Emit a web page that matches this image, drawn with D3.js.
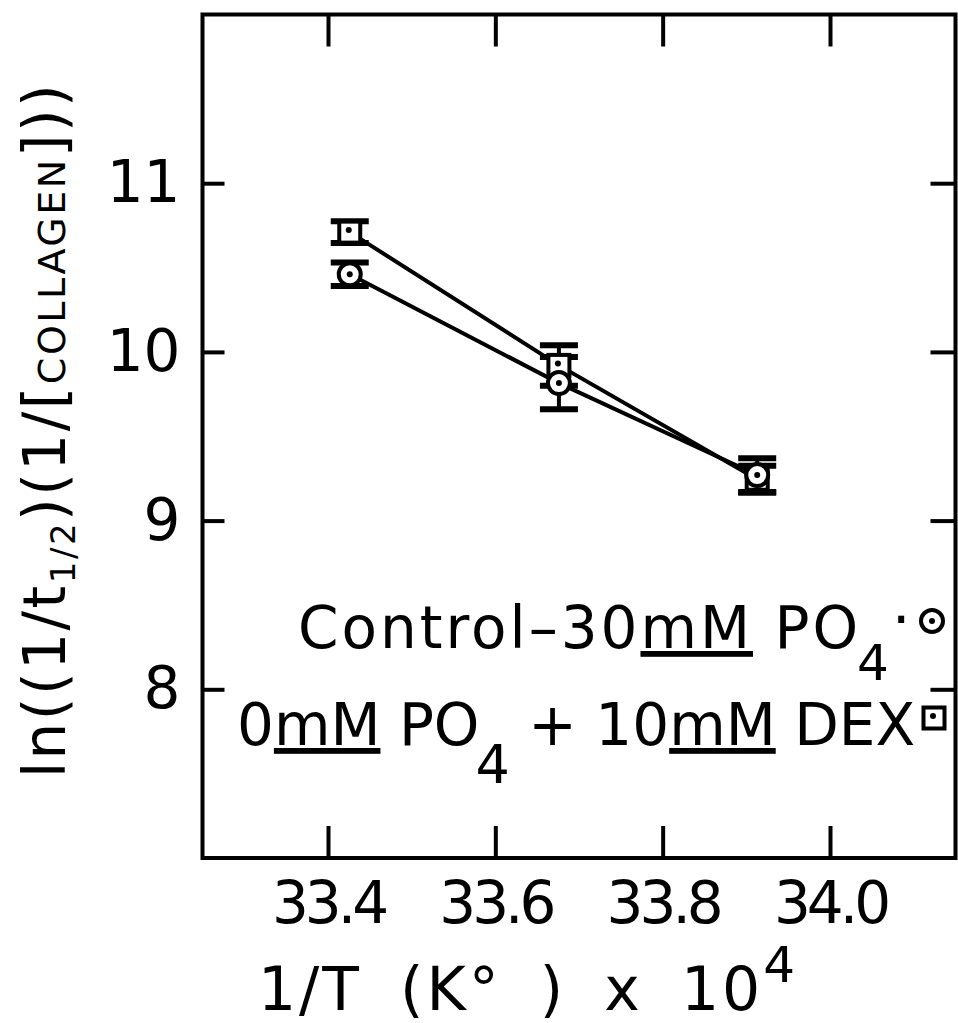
<!DOCTYPE html>
<html>
<head>
<meta charset="utf-8">
<script src="https://cdn.jsdelivr.net/npm/d3@7"></script>
<style>
  body { margin: 0; background: #fff; }
  text { font-family: "DejaVu Sans", sans-serif; fill: #000; }
</style>
</head>
<body>
<div id="chart"></div>
<script>
// values
const invTemp = [33.426, 33.676, 33.913];
const controlMean = [10.46, 9.815, 9.27];
const controlErr = [0.07, 0.155, 0.10];
const dexMean = [10.71, 9.92, 9.245];
const dexErr = [0.065, 0.12, 0.08];
const xTicks = [33.4, 33.6, 33.8, 34.0];
const yTicks = [8, 9, 10, 11];

const width = 958, height = 1023;
const box = { left: 202.5, right: 955.5, top: 14.5, bottom: 858 };

const svg = d3.select("#chart").append("svg")
    .attr("width", width)
    .attr("height", height);

const x = d3.scaleLinear().domain([33.25, 34.15]).range([box.left, box.right]);
const y = d3.scaleLinear().domain([7, 12]).range([box.bottom, box.top]);

// axes, ticks pointing inward on all four sides
const bottomAxis = svg.append("g")
    .attr("transform", "translate(0," + box.bottom + ")")
    .call(d3.axisBottom(x).tickValues(xTicks).tickSize(-32).tickPadding(24)
        .tickFormat(d3.format(".1f")));
bottomAxis.selectAll("text").style("font-size", "58px").style("letter-spacing", "-4px");

svg.append("g")
    .attr("transform", "translate(0," + box.top + ")")
    .call(d3.axisTop(x).tickValues(xTicks).tickSize(-32).tickFormat(""));

const leftAxis = svg.append("g")
    .attr("transform", "translate(" + box.left + ",0)")
    .call(d3.axisLeft(y).tickValues(yTicks).tickSize(-22).tickPadding(22)
        .tickFormat(d3.format("d")));
leftAxis.selectAll("text").style("font-size", "58px");

svg.append("g")
    .attr("transform", "translate(" + box.right + ",0)")
    .call(d3.axisRight(y).tickValues(yTicks).tickSize(-25).tickFormat(""));

svg.selectAll(".domain").remove();
svg.selectAll(".tick line").attr("stroke", "#000").attr("stroke-width", 4);
svg.selectAll(".tick text").attr("font-family", null);

svg.append("rect")
    .attr("x", box.left).attr("y", box.top)
    .attr("width", box.right - box.left).attr("height", box.bottom - box.top)
    .attr("fill", "none").attr("stroke", "#000").attr("stroke-width", 4);

// series
const series = [
    { name: "dex", mean: dexMean, err: dexErr },
    { name: "control", mean: controlMean, err: controlErr }
];

const line = d3.line().x((d, i) => x(invTemp[i])).y(d => y(d));

series.forEach(s => {
    svg.append("path")
        .attr("d", line(s.mean))
        .attr("fill", "none").attr("stroke", "#000").attr("stroke-width", 4);
});

series.forEach(s => {
    const g = svg.append("g");
    s.mean.forEach((m, i) => {
        const cx = x(invTemp[i]);
        g.append("line")
            .attr("x1", cx).attr("x2", cx)
            .attr("y1", y(m + s.err[i])).attr("y2", y(m - s.err[i]))
            .attr("stroke", "#000").attr("stroke-width", 4);
        [m + s.err[i], m - s.err[i]].forEach(v => {
            g.append("line")
                .attr("x1", cx - 19).attr("x2", cx + 19)
                .attr("y1", y(v)).attr("y2", y(v))
                .attr("stroke", "#000").attr("stroke-width", 6);
        });
    });
});

function square(g, cx, cy) {
    g.append("rect")
        .attr("x", cx - 10.5).attr("y", cy - 10.5)
        .attr("width", 21).attr("height", 21)
        .attr("fill", "#fff").attr("stroke", "#000").attr("stroke-width", 4);
    g.append("circle").attr("cx", cx - 1).attr("cy", cy - 2).attr("r", 3).attr("fill", "#000");
}
function ring(g, cx, cy) {
    g.append("circle")
        .attr("cx", cx).attr("cy", cy).attr("r", 11)
        .attr("fill", "#fff").attr("stroke", "#000").attr("stroke-width", 4);
    g.append("circle").attr("cx", cx).attr("cy", cy).attr("r", 3).attr("fill", "#000");
}

const marks = svg.append("g");
dexMean.forEach((m, i) => square(marks, x(invTemp[i]), y(m)));
controlMean.forEach((m, i) => ring(marks, x(invTemp[i]), y(m)));

// legend
const leg1 = svg.append("text").attr("x", 298).attr("y", 648)
    .style("font-size", "58px").style("letter-spacing", "3px");
leg1.append("tspan").text("Control\u201330");
leg1.append("tspan").text("mM").style("text-decoration", "underline");
leg1.append("tspan").text(" PO");
leg1.append("tspan").text("4").attr("dx", -4).attr("dy", 32).style("font-size", "50px");
leg1.append("tspan").text("\u00b7").attr("dy", -40);
ring(svg, 932, 621);

const leg2 = svg.append("text").attr("x", 237).attr("y", 745).style("font-size", "58px");
leg2.append("tspan").text("0");
leg2.append("tspan").text("mM").style("text-decoration", "underline");
leg2.append("tspan").text(" PO");
leg2.append("tspan").text("4").attr("dx", -4).attr("dy", 38).style("font-size", "54px");
leg2.append("tspan").text(" + 10").attr("dy", -38);
leg2.append("tspan").text("mM").style("text-decoration", "underline");
leg2.append("tspan").text(" DEX");
square(svg, 934, 718);

// axis titles
const xt = svg.append("text").attr("x", 528).attr("y", 1010)
    .attr("text-anchor", "middle").style("font-size", "60px")
    .style("letter-spacing", "3px").style("word-spacing", "16px");
xt.append("tspan").text("1/T (K\u00b0 ) x 10");
xt.append("tspan").text("4").attr("dy", -28).style("font-size", "50px");

const yt = svg.append("text")
    .attr("transform", "translate(65,778) rotate(-90)")
    .style("font-size", "58px").style("letter-spacing", "2.5px");
yt.append("tspan").text("ln((1/t");
yt.append("tspan").text("1/2").attr("dy", 10).style("font-size", "34px");
yt.append("tspan").text(")(1/[").attr("dy", -10);
yt.append("tspan").text("COLLAGEN").style("font-size", "38px");
yt.append("tspan").text("]))");
</script>
</body>
</html>
